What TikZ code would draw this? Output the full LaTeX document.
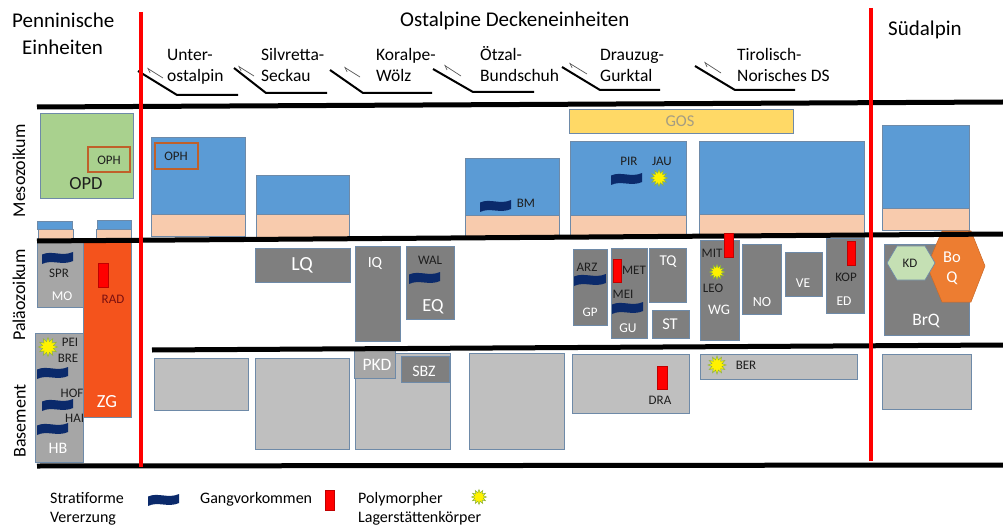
\documentclass[tikz,border=0pt]{standalone}
\usepackage{fontspec}
\setmainfont{Carlito}
\usetikzlibrary{shapes.geometric,arrows.meta}
\newcommand\fsz[1]{\fontsize{#1}{#1}\selectfont}
\definecolor{mblue}{HTML}{5B9BD5}
\definecolor{peach}{HTML}{F8CBAD}
\definecolor{opdgreen}{HTML}{A9D18E}
\definecolor{ophbrown}{HTML}{C0602A}
\definecolor{gosyellow}{HTML}{FFD966}
\definecolor{gostext}{HTML}{A59D82}
\definecolor{dgray}{HTML}{7F7F7F}
\definecolor{mgray}{HTML}{A6A6A6}
\definecolor{lgray}{HTML}{BFBFBF}
\definecolor{edgeblue}{HTML}{6E8AA8}
\definecolor{zgorange}{HTML}{F4531C}
\definecolor{boqorange}{HTML}{ED7D31}
\definecolor{kdgreen}{HTML}{C5E0B4}
\definecolor{navy}{HTML}{0B2A6B}
\definecolor{veinred}{HTML}{FF0000}
\definecolor{veinedge}{HTML}{C00000}
\definecolor{lbltext}{HTML}{1E1E1E}
\definecolor{radtext}{HTML}{7A1010}
\definecolor{starline}{HTML}{8DB33A}
\definecolor{arrowgray}{HTML}{555555}
\tikzset{
  box/.style={draw=edgeblue, line width=0.7pt},
  rule/.style={line width=5pt, black},
  divider/.style={line width=4.5pt, veinred},
  thrust/.style={line width=2pt, black},
  slip/.style={line width=0.7pt, arrowgray, -{Straight Barb[left,length=4pt,width=5pt]}},
  vein/.style={fill=veinred, draw=veinedge, line width=0.4pt},
  burst/.style={star, star points=12, star point ratio=1.7, minimum size=17pt, inner sep=0pt, fill=yellow, draw=starline, line width=0.5pt},
  lbl/.style={font=\fsz{13}, text=lbltext, inner sep=0pt},
  wlbl/.style={text=white, inner sep=0pt},
  head/.style={font=\fsz{21}, inner sep=0pt, anchor=base west},
  sub/.style={font=\fsz{17.5}, inner sep=0pt, anchor=base west},
  leg/.style={font=\fsz{16}, inner sep=0pt, anchor=base west},
  rowlbl/.style={font=\fsz{18}, inner sep=0pt, rotate=90},
  ophbox/.style={draw=ophbrown, line width=2pt},
  pics/wavy/.style={code={\fill[navy] (0,2.5) .. controls (10,-2) and (20,5) .. (31,0) -- (31,9) .. controls (20,14) and (10,7) .. (0,12) -- cycle;}}
}
\begin{document}
\begin{tikzpicture}[x=1pt,y=-1pt]
\useasboundingbox (0,0) rectangle (1003,529);

% ---------- headings ----------
\node[head] (pen1) at (12,28) {Penninische};
\node[head] (pen2) at (22,55) {Einheiten};
\node[head] (ost) at (400,27) {Ostalpine Deckeneinheiten};
\node[head] (sued) at (888,36) {Südalpin};

\node[sub] (u1) at (167,61) {Unter-};
\node[sub] (u2) at (167,82) {ostalpin};
\node[sub] (s1) at (261,61) {Silvretta-};
\node[sub] (s2) at (261,82) {Seckau};
\node[sub] (k1) at (376,61) {Koralpe-};
\node[sub] (k2) at (376,82) {Wölz};
\node[sub] (o1) at (480,61) {Ötzal-};
\node[sub] (o2) at (480,82) {Bundschuh};
\node[sub] (d1) at (600,61) {Drauzug-};
\node[sub] (d2) at (600,82) {Gurktal};
\node[sub] (t1) at (737,61) {Tirolisch-};
\node[sub] (t2) at (737,82) {Norisches DS};

% thrust symbols
\draw[thrust] (138,71) -- (177,95) -- (238,95);
\draw[slip] (163,78) -- (147,68);
\draw[thrust] (234,68) -- (266,93) -- (327,93);
\draw[slip] (254,76) -- (238,66);
\draw[thrust] (330,70) -- (363,93) -- (432,93);
\draw[slip] (360,77) -- (344,67);
\draw[thrust] (433,69) -- (473,92) -- (534,92);
\draw[slip] (461,76) -- (444,65);
\draw[thrust] (562,67) -- (600,90) -- (660,90);
\draw[slip] (587,74) -- (569,63);
\draw[thrust] (695,66) -- (735,90) -- (795,90);
\draw[slip] (721,73) -- (704,62);

% row labels
\node[rowlbl] (meso) at (19,171) {Mesozoikum};
\node[rowlbl] (palaeo) at (19,295) {Paläozoikum};
\node[rowlbl] (base) at (20,421) {Basement};

% ---------- Mesozoikum ----------
\draw[box, fill=opdgreen] (40,113) rectangle (133,198);
\draw[ophbox] (88,147) rectangle (130,172);
\node[lbl] (oph1) at (109,160) {OPH};
\node[font=\fsz{18.5}, text=lbltext, inner sep=0pt] (opd) at (86,184) {OPD};

\draw[box, fill=mblue] (37,221) rectangle (72,229);
\draw[box, fill=peach] (38,229) rectangle (73,240);
\draw[box, fill=mblue] (97,220) rectangle (131,229);
\draw[box, fill=peach] (96,229) rectangle (131,240);

\draw[box, fill=mblue] (151,137) rectangle (245,214);
\draw[box, fill=peach] (151,214) rectangle (245,236);
\draw[ophbox] (155,143) rectangle (198,169);
\node[lbl] (oph2) at (176,156) {OPH};

\draw[box, fill=mblue] (256,175) rectangle (349,214);
\draw[box, fill=peach] (256,214) rectangle (349,238);

\draw[box, fill=mblue] (465,158) rectangle (559,215);
\draw[box, fill=peach] (465,215) rectangle (559,237);
\pic at (480,200) {wavy};
\node[lbl] (bm) at (526,203) {BM};

\draw[box, fill=gosyellow] (569,109) rectangle (793,133);
\node[font=\fsz{16.5}, text=gostext, inner sep=0pt] (gos) at (680,121) {GOS};

\draw[box, fill=mblue] (570,141) rectangle (686,215);
\draw[box, fill=peach] (570,215) rectangle (686,237);
\node[lbl] (pir) at (629,161) {PIR};
\node[lbl] (jau) at (662,161) {JAU};
\pic at (611,173) {wavy};
\node[burst] (jaustar) at (659,178) {};

\draw[box, fill=mblue] (699,141) rectangle (864,214);
\draw[box, fill=peach] (699,214) rectangle (864,236);

\draw[box, fill=mblue] (882,125) rectangle (969,208);
\draw[box, fill=peach] (882,208) rectangle (969,230);

% ---------- Paläozoikum ----------
\draw[box, fill=mgray] (37,240) rectangle (83,307);
\pic at (42,252) {wavy};
\node[lbl] (spr) at (59,273) {SPR};
\node[wlbl, font=\fsz{13.5}] (mo) at (62,296) {MO};

\draw[box, fill=mgray] (35,333) rectangle (83,462);
\node[burst, minimum size=19pt] (peistar) at (48,347) {};
\node[lbl] (pei) at (70,342) {PEI};
\node[lbl] (bre) at (68,358) {BRE};
\pic at (37,367) {wavy};
\node[lbl] (hof) at (72,393) {HOF};
\pic at (42,399) {wavy};
\node[lbl, anchor=west] (hai) at (65,418) {HAI};
\pic at (37,423) {wavy};
\node[wlbl, font=\fsz{16}] (hb) at (58,448) {HB};

\draw[box, fill=zgorange] (83,239) rectangle (131,417);
\draw[vein] (98,263) rectangle (108,287);
\node[lbl, text=radtext] (rad) at (113,299) {RAD};
\node[wlbl, font=\fsz{18.5}] (zg) at (107,402) {ZG};

\draw[box, fill=dgray] (255,248) rectangle (350,282);
\node[wlbl, font=\fsz{20}] (lq) at (302,265) {LQ};

\draw[box, fill=dgray] (355,246) rectangle (400,341);
\node[wlbl, font=\fsz{15.5}] (iq) at (375,263) {IQ};

\draw[box, fill=dgray] (406,246) rectangle (454,319);
\node[lbl] (wal) at (430,260) {WAL};
\pic at (409,272) {wavy};
\node[wlbl, font=\fsz{18.5}] (eq) at (433,307) {EQ};

\draw[box, fill=dgray] (573,249) rectangle (607,325);
\node[lbl] (arz) at (587,267) {ARZ};
\pic[xscale=1.03] at (574,274) {wavy};
\node[wlbl, font=\fsz{13}] (gp) at (590,312) {GP};

\draw[box, fill=dgray] (611,248) rectangle (647,338);
\draw[vein] (613,259) rectangle (621,282);
\node[lbl] (met) at (634,270) {MET};
\node[lbl] (mei) at (623,294) {MEI};
\pic at (612,302) {wavy};
\node[wlbl, font=\fsz{13.5}] (gu) at (628,328) {GU};

\draw[box, fill=dgray] (649,248) rectangle (686,302);
\node[wlbl, font=\fsz{15}] (tq) at (668,262) {TQ};

\draw[box, fill=dgray] (652,310) rectangle (689,338);
\node[wlbl, font=\fsz{16.5}] (st) at (670,324) {ST};

\draw[box, fill=dgray] (700,240) rectangle (739,340);
\node[lbl] (mit) at (712,253) {MIT};
\node[burst, minimum size=15pt] (leostar) at (717,272) {};
\node[lbl] (leo) at (713,288) {LEO};
\node[wlbl, font=\fsz{14.5}] (wg) at (719,310) {WG};

\draw[box, fill=dgray] (742,244) rectangle (781,314);
\node[wlbl, font=\fsz{14}] (no) at (762,302) {NO};

\draw[box, fill=dgray] (785,252) rectangle (822,296);
\node[wlbl, font=\fsz{13.5}] (ve) at (803,283) {VE};

\draw[box, fill=dgray] (826,238) rectangle (864,313);
\node[lbl] (kop) at (846,277) {KOP};
\node[wlbl, font=\fsz{13.5}] (ed) at (844,301) {ED};

\draw[box, fill=dgray] (884,244) rectangle (969,335);
\node[wlbl, font=\fsz{17.5}] (brq) at (926,321) {BrQ};
\draw[fill=boqorange, draw=boqorange!85!black, line width=0.5pt]
  (927,266) -- (942,231) -- (971,231) -- (985,266) -- (971,302) -- (942,302) -- cycle;
\node[wlbl, font=\fontsize{16.5}{20}\selectfont, align=center] (boq) at (952,268) {Bo\\Q};
\draw[box, fill=kdgreen] (887,263) -- (897,246) -- (925,246) -- (935,263) -- (925,280) -- (897,280) -- cycle;
\node[lbl] (kd) at (910,263) {KD};

% ---------- Basement ----------
\draw[box, fill=lgray] (154,358) rectangle (248,410);
\draw[box, fill=lgray] (255,358) rectangle (349,449);
\draw[box, fill=lgray] (355,353) rectangle (450,449);
\draw[box, fill=mgray] (354,350) rectangle (395,378);
\node[wlbl, font=\fsz{17.5}] (pkd) at (377,365) {PKD};
\draw[box, fill=dgray] (401,356) rectangle (449,382);
\node[wlbl, font=\fsz{16}] (sbz) at (424,371) {SBZ};
\draw[box, fill=lgray] (469,353) rectangle (564,449);
\draw[box, fill=lgray] (572,354) rectangle (689,413);
\node[lbl] (dra) at (660,400) {DRA};
\draw[box, fill=lgray] (700,354) rectangle (857,379);
\node[burst, minimum size=18pt] (berstar) at (717,365) {};
\node[lbl] (ber) at (746,365) {BER};
\draw[box, fill=lgray] (882,354) rectangle (971,409);

% ---------- horizontal rules ----------
\draw[rule] (37,107) -- (1003,102);
\draw[rule] (37,241) -- (1003,234);
\draw[rule] (152,350) -- (1003,345);
\draw[rule] (37,466) -- (1003,465);

% veins drawn over rules
\draw[vein] (724,233) rectangle (733,257);
\draw[vein] (847,241) rectangle (855,265);
\draw[vein] (657,366) rectangle (667,389);

% ---------- red dividers ----------
\draw[divider] (141,12) -- (141,467);
\draw[divider] (871,8) -- (871,461);

% ---------- legend ----------
\node[leg] (leg1a) at (50,503) {Stratiforme};
\node[leg] (leg1b) at (50,522) {Vererzung};
\pic at (148,494) {wavy};
\node[leg] (leg2) at (200,503) {Gangvorkommen};
\draw[vein] (325,490) rectangle (334,510);
\node[leg] (leg3a) at (358,503) {Polymorpher};
\node[leg] (leg3b) at (358,522) {Lagerstättenkörper};
\node[burst, minimum size=15pt] (legstar) at (479,497) {};
\end{tikzpicture}
\end{document}
